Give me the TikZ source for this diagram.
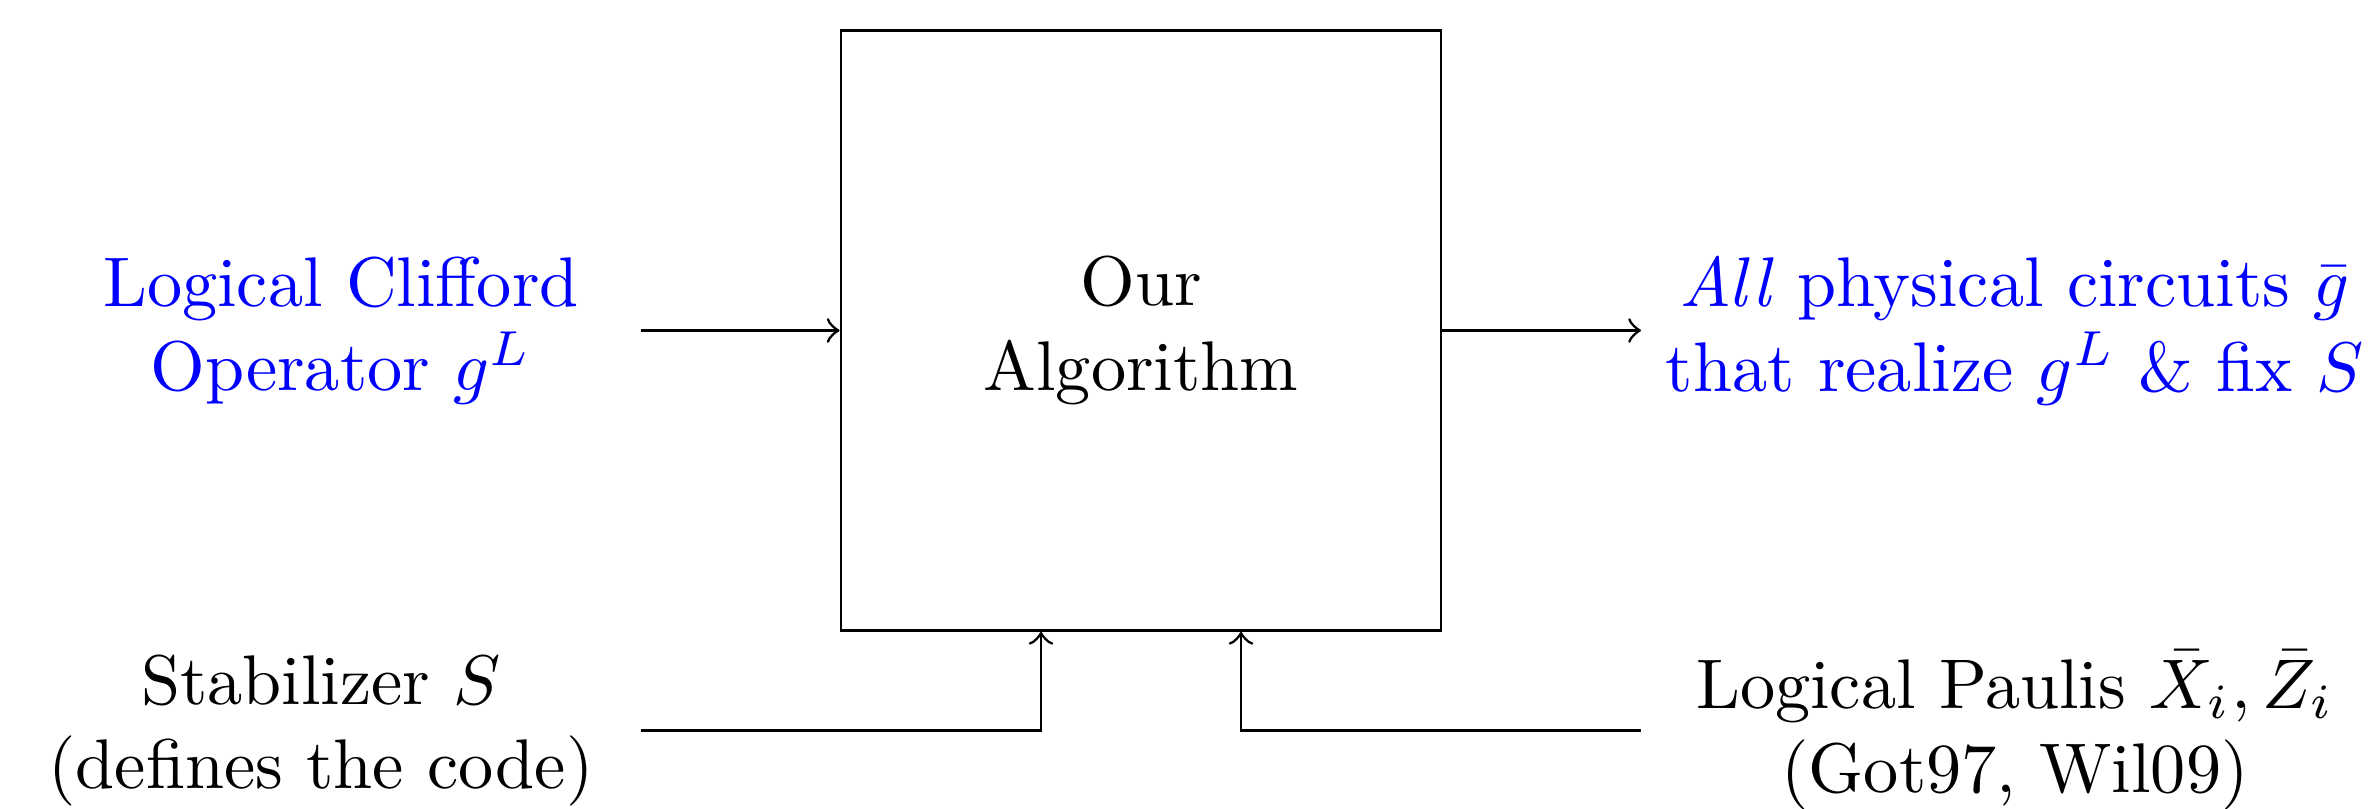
\documentclass[tikz,border=0pt]{standalone}
\usetikzlibrary{positioning}
\begin{document}
\begin{tikzpicture}[
  blk/.style={draw, line width=0.4pt, minimum width=3cm, minimum height=3cm, align=center, inner sep=0pt},
  lbl/.style={align=center},
  hl/.style={text=blue},
  conn/.style={->, line width=0.4pt}
]
\useasboundingbox (-5.705,-2.3925) rectangle (6.135,1.6525);
\node[blk] (box) at (0,0) {Our\\Algorithm};
\coordinate (inL) at (-2.5,0);
\coordinate (outR) at (2.5,0);
\coordinate (stabL) at (-2.5,-2);
\coordinate (pauliR) at (2.5,-2);
\node[lbl,hl] (gin) at (-4,0) {Logical Clifford\\Operator $g^L$};
\node[lbl,hl,anchor=west] (gout) at (outR) {\textit{All} physical circuits $\bar g$\\that realize $g^L$ \& fix $S$};
\node[lbl] (stab) at (-4.1,-2) {Stabilizer $S$\\(defines the code)};
\node[lbl] (pauli) at (4.37,-2) {Logical Paulis $\bar X_i,\bar Z_i$\\(Got97, Wil09)};
\draw[conn] (inL) -- (box.west);
\draw[conn] (box.east) -- (outR);
\draw[conn] (stabL) -| ([xshift=-5mm]box.south);
\draw[conn] (pauliR) -| ([xshift=5mm]box.south);
\end{tikzpicture}
\end{document}
